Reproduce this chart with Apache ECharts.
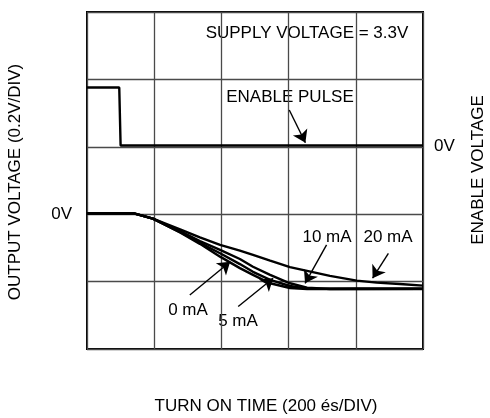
<!DOCTYPE html>
<html>
<head>
<meta charset="utf-8">
<script src="https://cdn.jsdelivr.net/npm/echarts@6/dist/echarts.min.js"></script>
<style>
html,body{margin:0;padding:0;background:#fff;}
#c{width:490px;height:418px;}
</style>
</head>
<body>
<div id="c"></div>
<script>
// Time axis in microseconds (200 us/div), output voltage in volts (0.2 V/div)
const t0mA  = [0,137,196,277,336,396,455,494,545,604,655,800,1000];
const v0mA  = [0.003,0.003,-0.013,-0.054,-0.088,-0.126,-0.160,-0.180,-0.205,-0.219,-0.222,-0.221,-0.222];
const t5mA  = [0,137,196,277,336,396,455,494,545,604,655,800,1000];
const v5mA  = [0.003,0.003,-0.013,-0.053,-0.085,-0.116,-0.148,-0.171,-0.195,-0.213,-0.221,-0.221,-0.221];
const t10mA = [0,137,196,277,336,396,455,494,545,604,655,723,1000];
const v10mA = [0.003,0.003,-0.013,-0.050,-0.080,-0.106,-0.133,-0.156,-0.180,-0.205,-0.218,-0.222,-0.221];
const t20mA = [0,137,196,277,336,396,455,494,545,604,655,723,803,862,931,1000];
const v20mA = [0.003,0.003,-0.013,-0.045,-0.069,-0.091,-0.108,-0.121,-0.138,-0.157,-0.168,-0.183,-0.197,-0.203,-0.207,-0.212];
// Enable pulse, in divisions relative to enable 0V
const tEnable = [0,96,100,1000];
const vEnable = [0.88,0.88,0.02,0.02];

// Annotation arrows [x1,y1,x2,y2] in data units
const arrowEnable = [602,0.546,650,0.061];
const arrow10 = [713,-0.091,649,-0.205];
const arrow20 = [897,-0.116,850,-0.190];
const arrow0  = [306,-0.240,426,-0.141];
const arrow5  = [450,-0.274,554,-0.190];

const FONT = 'Liberation Sans, Arial, sans-serif';
const FS = 17;

function pairs(t, v){ return t.map((x,i)=>[x, v[i]]); }
function arrow(a){ return [[{coord:[a[0],a[1]]},{coord:[a[2],a[3]]}]]; }
function ml(a){
  return {
    silent:true, animation:false,
    symbol:['none','arrow'], symbolSize:12,
    itemStyle:{color:'#000'},
    label:{show:false},
    emphasis:{disabled:true},
    lineStyle:{color:'#000',width:1.4,type:'solid',opacity:1},
    data: arrow(a)
  };
}
function trace(name, t, v, a){
  const s = {
    name:name, type:'line', data:pairs(t,v), showSymbol:false, symbol:'none',
    color:'#000',
    lineStyle:{color:'#000',width:2.4}, animation:false, z:3
  };
  if(a) s.markLine = ml(a);
  return s;
}

const chart = echarts.init(document.getElementById('c'));
const txt = (s,x,y,rot)=>({type:'text', x:x, y:y, rotation:rot||0,
  style:{text:s, font: FS+'px '+FONT, fill:'#000', textAlign:'center', textVerticalAlign:'middle'}});

chart.setOption({
  backgroundColor:'#fff',
  animation:false,
  grid:{left:87, top:12, width:336, height:337, show:true, borderColor:'#000', borderWidth:2, backgroundColor:'#fff', z:0},
  xAxis:{type:'value', min:0, max:1000, interval:200,
    axisLine:{show:false}, axisTick:{show:false}, axisLabel:{show:false},
    splitLine:{show:true, lineStyle:{color:'#4a4a4a', width:1.3}}},
  yAxis:[
    {type:'value', min:-0.4, max:0.6, interval:0.2,
     axisLine:{show:false}, axisTick:{show:false},
     axisLabel:{show:true, margin:15, fontSize:FS, fontFamily:FONT, color:'#000',
       formatter:(v)=> Math.abs(v)<1e-9 ? '0V' : ''},
     splitLine:{show:true, lineStyle:{color:'#4a4a4a', width:1.3}}},
    {type:'value', min:-3, max:2, interval:1, position:'right',
     axisLine:{show:false}, axisTick:{show:false},
     axisLabel:{show:true, margin:11, fontSize:FS, fontFamily:FONT, color:'#000',
       formatter:(v)=> Math.abs(v)<1e-9 ? '0V' : ''},
     splitLine:{show:false}}
  ],
  series:[
    trace('0 mA', t0mA, v0mA, arrow0),
    trace('5 mA', t5mA, v5mA, arrow5),
    trace('10 mA', t10mA, v10mA, arrow10),
    trace('20 mA', t20mA, v20mA, arrow20),
    Object.assign(trace('ENABLE', tEnable, vEnable, arrowEnable), {yAxisIndex:1})
  ],
  graphic:[
    txt('SUPPLY VOLTAGE = 3.3V', 307, 33),
    txt('ENABLE PULSE', 290, 97),
    txt('10 mA', 327, 237),
    txt('20 mA', 388, 237),
    txt('0 mA', 188, 310),
    txt('5 mA', 238, 321),
    txt('OUTPUT VOLTAGE (0.2V/DIV)', 15, 182, Math.PI/2),
    txt('ENABLE VOLTAGE', 478, 170, Math.PI/2),
    txt('TURN ON TIME (200 és/DIV)', 266, 406)
  ]
});
</script>
</body>
</html>
